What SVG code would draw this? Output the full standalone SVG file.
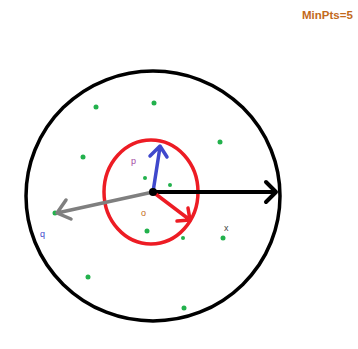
<svg xmlns="http://www.w3.org/2000/svg" width="358" height="349" viewBox="0 0 358 349">
<defs>
<style>
.pt{fill:#22b14c}
.lbl{font-family:"Liberation Sans",Arial,sans-serif;font-size:9px}
</style>
</defs>
<rect width="358" height="349" fill="#fff"/>
<g id="outer-circle"><ellipse cx="153" cy="196" rx="127" ry="125" fill="none" stroke="#000" stroke-width="3.5"/></g>
<g id="eps-circle"><ellipse cx="151" cy="192" rx="47" ry="52" fill="none" stroke="#ed1c24" stroke-width="3.5"/></g>
<g id="points">
<circle class="pt" cx="96" cy="107" r="2.5"/>
<circle class="pt" cx="154" cy="103" r="2.5"/>
<circle class="pt" cx="220" cy="142" r="2.5"/>
<circle class="pt" cx="83" cy="157" r="2.5"/>
<circle class="pt" cx="145" cy="178" r="2"/>
<circle class="pt" cx="170" cy="185" r="2"/>
<circle class="pt" cx="147" cy="231" r="2.5"/>
<circle class="pt" cx="183" cy="238" r="2"/>
<circle class="pt" cx="55" cy="213" r="2.5"/>
<circle class="pt" cx="88" cy="277" r="2.5"/>
<circle class="pt" cx="184" cy="308" r="2.5"/>
<circle class="pt" cx="223" cy="238" r="2.5"/>
</g>
<g id="connectors" fill="none" stroke-linecap="round" stroke-linejoin="round">
<path d="M153 192 H276 M266 182 L276 192 L266 202" stroke="#000" stroke-width="4"/>
<path d="M153 192 L160 147 M150 156 L160 146 L167 157" stroke="#3f48cc" stroke-width="3.5"/>
<path d="M153 192 L190 220 M177 221 L190 220 L188 208" stroke="#ed1c24" stroke-width="3.5"/>
<path d="M153 192 L57 213 M66 200 L57 213 L71 219" stroke="#7f7f7f" stroke-width="3.5"/>
<circle cx="153" cy="192" r="4" fill="#000" stroke="none"/>
</g>
<g id="labels">
<text class="lbl" x="131" y="164" fill="#a349a4">p</text>
<text class="lbl" x="40" y="237" fill="#3f48cc">q</text>
<text class="lbl" x="141" y="216" fill="#c36a1a">o</text>
<text class="lbl" x="224" y="231" fill="#444">x</text>
<text class="lbl" x="302" y="19" fill="#c36a1a" style="font-size:11.5px;font-weight:bold">MinPts=5</text>
</g>
</svg>
